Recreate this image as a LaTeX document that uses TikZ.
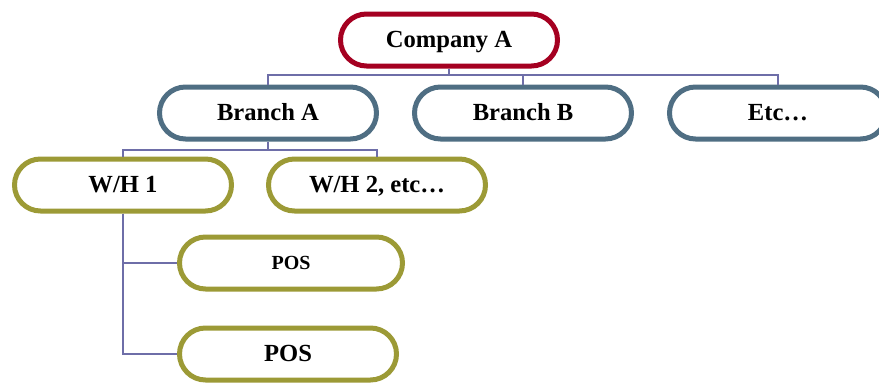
\documentclass[tikz,border=0pt]{standalone}
\usepackage{fontspec}
\setmainfont{Liberation Serif}

\definecolor{topred}{HTML}{A50021}
\definecolor{branchblue}{HTML}{4F6E83}
\definecolor{whgreen}{HTML}{9C9A36}
\definecolor{linkpurple}{HTML}{6E6EA8}

\begin{document}
\begin{tikzpicture}[x=0.5pt,y=-0.5pt,
  unit/.style={draw, line width=2.5pt, fill=white, rounded corners=13pt,
    minimum width=108.5pt, minimum height=26pt, inner sep=0pt,
    text height=8.5pt, text depth=1pt,
    font=\fontsize{12.3}{14}\selectfont\bfseries},
  company/.style={unit, draw=topred},
  branch/.style={unit, draw=branchblue},
  store/.style={unit, draw=whgreen},
  link/.style={draw=linkpurple, line width=0.75pt}]
\useasboundingbox (0,0) rectangle (879,386);

% boxes
\node[company] (comp) at (449,40) {Company A};
\node[branch] (brA) at (268,113) {Branch A};
\node[branch] (brB) at (523,113) {Branch B};
\node[branch] (etc) at (778,113) {Etc\ldots};
\node[store] (wh1) at (123,185) {W/H 1};
\node[store] (wh2) at (377,185) {W/H 2, etc\ldots};
\node[store, minimum width=111.5pt, text height=7pt,
  font=\fontsize{10}{12}\selectfont\bfseries] (posA) at (291,263) {POS};
\node[store] (posB) at (288,354) {POS};

% company to branches
\coordinate (busA) at (449,75);
\draw[link] (comp.south) -- (busA);
\draw[link] (brA.north) |- (busA);
\draw[link] (brB.north) |- (busA);
\draw[link] (etc.north) |- (busA);

% branch to warehouses
\coordinate (busB) at (268,150);
\draw[link] (brA.south) -- (busB);
\draw[link] (wh1.north) |- (busB);
\draw[link] (wh2.north) |- (busB);

% warehouse to points of sale
\draw[link] (wh1.south) |- (posA.west);
\draw[link] (wh1.south) |- (posB.west);

\end{tikzpicture}
\end{document}
